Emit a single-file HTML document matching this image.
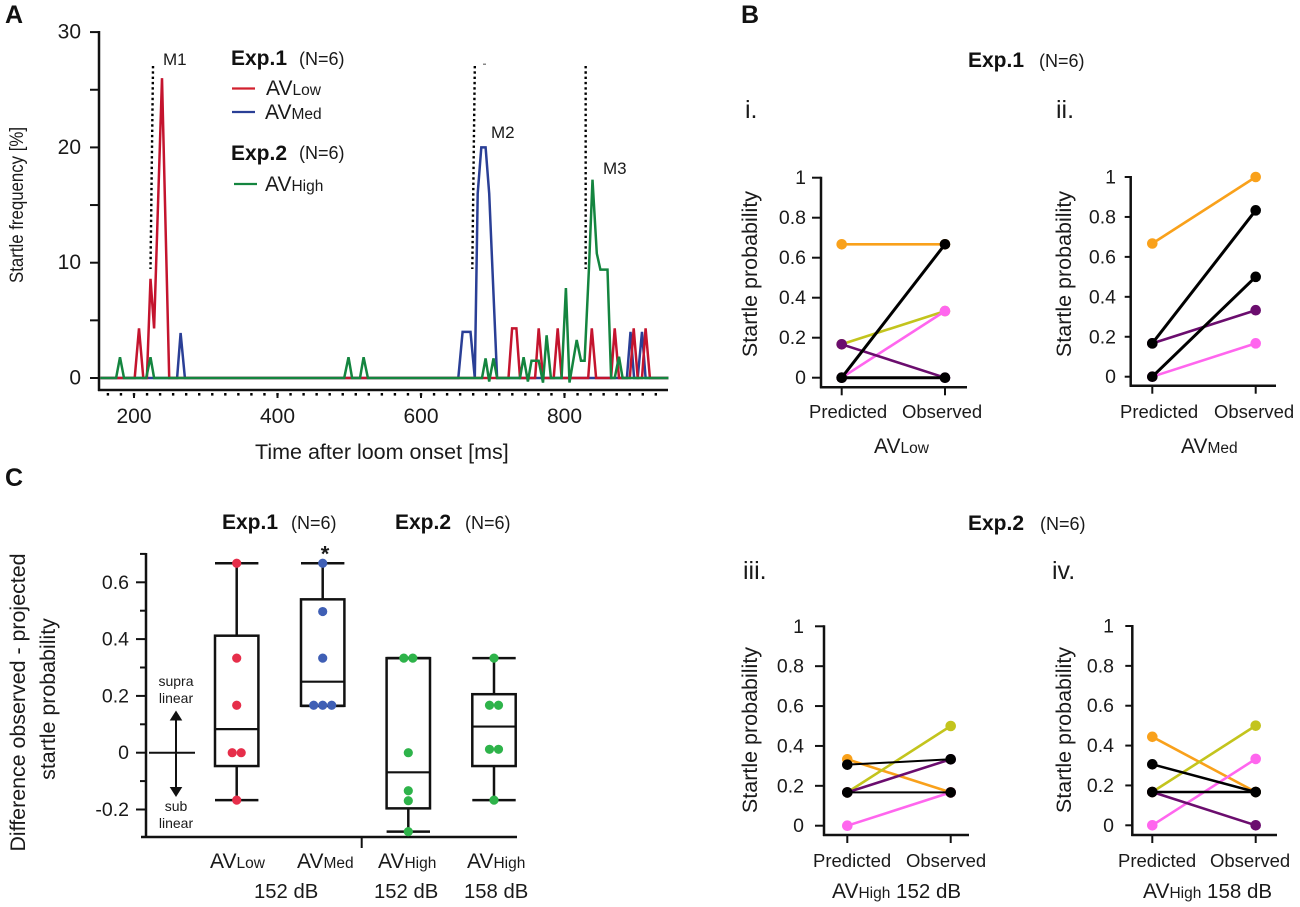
<!DOCTYPE html>
<html lang="en">
<head>
<meta charset="utf-8">
<title>Startle frequency and probability figure</title>
<style>
html,body{margin:0;padding:0;background:#fff;width:1300px;height:907px;overflow:hidden}
svg{display:block;filter:blur(0.35px)}
text{font-family:"Liberation Sans",Arial,sans-serif;fill:#1a1a1a}
.big{font-size:25px;font-weight:bold;fill:#111}
.exp{font-size:21px;font-weight:bold;fill:#111}
.n{font-size:18px}
.m{font-size:17px}
.av{font-size:21px}
.sub{font-size:15.5px}
.yt{font-size:21.5px}
.cat{font-size:18.5px}
.rom{font-size:25px}
.note{font-size:14px;text-anchor:middle}
</style>
</head>
<body>
<svg id="figure" xmlns="http://www.w3.org/2000/svg" width="1300" height="907" viewBox="0 0 1300 907">
  <text class="big" x="5" y="23">A</text>
  <text class="big" x="741" y="23">B</text>
  <text class="big" x="5" y="486">C</text>

  <g id="panelA"></g>
  <text transform="translate(23,205) rotate(-90)" text-anchor="middle" style="font-size:19px" textLength="156" lengthAdjust="spacingAndGlyphs">Startle frequency [%]</text>
  <text x="255" y="459" style="font-size:21.5px">Time after loom onset [ms]</text>
  <text class="m" x="163" y="65">M1</text>
  <text class="m" x="491" y="138">M2</text>
  <text class="m" x="603" y="174">M3</text>
  <rect x="483" y="63.5" width="3" height="1.5" fill="#888"/>

  <text class="exp" x="231" y="65">Exp.1</text>
  <text class="n" x="299" y="65">(N=6)</text>
  <line x1="232" y1="88.5" x2="255" y2="88.5" stroke="#d2202f" stroke-width="2.2"/>
  <text x="266" y="95"><tspan class="av">AV</tspan><tspan class="sub">Low</tspan></text>
  <line x1="232" y1="112" x2="255" y2="112" stroke="#2a3f96" stroke-width="2.2"/>
  <text x="265" y="119"><tspan class="av">AV</tspan><tspan class="sub">Med</tspan></text>
  <text class="exp" x="231" y="160">Exp.2</text>
  <text class="n" x="299" y="159">(N=6)</text>
  <line x1="234" y1="184" x2="257" y2="184" stroke="#14853f" stroke-width="2.2"/>
  <text x="265" y="191"><tspan class="av">AV</tspan><tspan class="sub">High</tspan></text>

  <text class="exp" x="968" y="67">Exp.1</text>
  <text class="n" x="1039" y="67">(N=6)</text>
  <text class="exp" x="968" y="530">Exp.2</text>
  <text class="n" x="1040" y="530">(N=6)</text>

  <text class="rom" x="745" y="118">i.</text>
  <text class="rom" x="1056" y="118">ii.</text>
  <text class="rom" x="743" y="579">iii.</text>
  <text class="rom" x="1052" y="579">iv.</text>

  <g id="panelB"></g>

  <text transform="translate(757,274) rotate(-90)" text-anchor="middle" class="yt">Startle probability</text>
  <text transform="translate(1071,274) rotate(-90)" text-anchor="middle" class="yt">Startle probability</text>
  <text transform="translate(757,730) rotate(-90)" text-anchor="middle" class="yt">Startle probability</text>
  <text transform="translate(1071,730) rotate(-90)" text-anchor="middle" class="yt">Startle probability</text>

  <text class="cat" x="809" y="418">Predicted</text>
  <text class="cat" x="902" y="418">Observed</text>
  <text x="874" y="453"><tspan class="av">AV</tspan><tspan class="sub">Low</tspan></text>
  <text class="cat" x="1120" y="418">Predicted</text>
  <text class="cat" x="1214" y="418">Observed</text>
  <text x="1181" y="453"><tspan class="av">AV</tspan><tspan class="sub">Med</tspan></text>
  <text class="cat" x="813" y="867">Predicted</text>
  <text class="cat" x="906" y="867">Observed</text>
  <text x="832" y="898"><tspan class="av">AV</tspan><tspan class="sub">High</tspan><tspan style="font-size:20.5px"> 152 dB</tspan></text>
  <text class="cat" x="1118" y="867">Predicted</text>
  <text class="cat" x="1210" y="867">Observed</text>
  <text x="1143" y="898"><tspan class="av">AV</tspan><tspan class="sub">High</tspan><tspan style="font-size:20.5px"> 158 dB</tspan></text>

  <g id="panelC"></g>
  <text class="exp" x="222" y="529">Exp.1</text>
  <text class="n" x="291" y="529">(N=6)</text>
  <text class="exp" x="395" y="529">Exp.2</text>
  <text class="n" x="465" y="529">(N=6)</text>
  <text transform="translate(25,702.5) rotate(-90)" text-anchor="middle" style="font-size:21.4px">Difference observed - projected</text>
  <text transform="translate(55,699) rotate(-90)" text-anchor="middle" style="font-size:21.4px">startle probability</text>
  <text class="note" x="176" y="686">supra</text>
  <text class="note" x="176" y="703">linear</text>
  <text class="note" x="176" y="811">sub</text>
  <text class="note" x="176" y="828">linear</text>
  <line x1="149" y1="752.7" x2="195" y2="752.7" stroke="#111" stroke-width="2"/>
  <line x1="176" y1="716" x2="176" y2="790" stroke="#111" stroke-width="2"/>
  <polygon points="176,710.5 169.7,720.5 182.3,720.5" fill="#111"/>
  <polygon points="176,797 169.7,787 182.3,787" fill="#111"/>
  <text x="325" y="561.5" text-anchor="middle" style="font-size:22px;font-weight:bold">*</text>
  <text x="210" y="868"><tspan class="av">AV</tspan><tspan class="sub">Low</tspan></text>
  <text x="297" y="868"><tspan class="av">AV</tspan><tspan class="sub">Med</tspan></text>
  <text x="378" y="868"><tspan class="av">AV</tspan><tspan class="sub">High</tspan></text>
  <text x="467" y="868"><tspan class="av">AV</tspan><tspan class="sub">High</tspan></text>
  <text x="254" y="898" style="font-size:20.3px">152 dB</text>
  <text x="374" y="898" style="font-size:20.3px">152 dB</text>
  <text x="464" y="898" style="font-size:20.3px">158 dB</text>
</svg>

<script>
// ---------- Panel A data ----------
const lowTimes = [153,201,207,213,218,223,228,239,249,722,727,733,738,759,764,770,785,790.5,796,833,838,844,865,870,876,891,896.5,902,908,913,919,945];
const lowValues = [0,0,4.3,0,0,8.6,4.3,26,0,0,4.3,4.3,0,0,4.3,0,0,4.3,0,0,4.3,0,0,4.3,0,0,4.3,0,0,4.3,0,0];
const medTimes = [153,260,265,271,652,658,669,675,679,684,690,695,706,887,892,897,902,908,913,945];
const medValues = [0,0,3.9,0,0,4,4,0,16,20,20,16,0,0,4,0,0,4,0,0];
const highTimes = [153,175,180.5,186,217,223,228,493,499,504,515,520,526,685,690,695,701,706,738,743,749,754,764,770,775,781,796,802,807,817,823,828,834,839,845,850,860,865,870,876,881,945];
const highValues = [0,0,1.8,0,0,1.8,0,0,1.8,0,0,1.8,0,0,1.7,-0.3,1.7,0,0,1.8,-0.3,1.5,1.5,-0.4,3.7,0,0,7.8,-0.4,3.3,1.5,1.5,9.4,17.2,10.8,9.4,9.4,0,0,1.85,0,0];
const freqTicks = [0,10,20,30];
const freqMinorTicks = [5,15,25];
const timeTicks = [200,400,600,800];
const markerTimesTop = [226.5,675,829.5];
const markerTimesBottom = [223,671.5,829.5];

// ---------- Panel B data ----------
const seriesNames = ['orange','olive','magenta','purple','black-a','black-b'];
const probTicks = [0,0.2,0.4,0.6,0.8,1];
const panelIPredicted = [0.667,0.167,0,0.167,0,0];
const panelIObserved = [0.667,0.333,0.333,0,0.667,0];
const panelIIPredicted = [0.667,null,0,0.167,0.167,0];
const panelIIObserved = [1,null,0.167,0.333,0.833,0.5];
const panelIIIPredicted = [0.333,0.167,0,0.167,0.306,0.167];
const panelIIIObserved = [0.167,0.5,0.167,0.333,0.333,0.167];
const panelIVPredicted = [0.444,0.167,0,0.167,0.306,0.167];
const panelIVObserved = [0.167,0.5,0.333,0,0.167,0.167];

// ---------- Panel C data ----------
const boxCategories = ['av-low','av-med','av-high-152','av-high-158'];
const boxQ3 = [0.412,0.54,0.333,0.206];
const boxMedian = [0.083,0.25,-0.069,0.092];
const boxQ1 = [-0.047,0.165,-0.196,-0.047];
const whiskerHigh = [0.667,0.667,0.333,0.333];
const whiskerLow = [-0.167,0.165,-0.278,-0.167];
const lowPoints = [0.667,0.333,0.167,0,0,-0.167];
const medPoints = [0.667,0.497,0.333,0.167,0.167,0.167];
const high152Points = [0.333,0.333,0,-0.134,-0.169,-0.278];
const high158Points = [0.333,0.167,0.167,0.012,0.012,-0.167];
const diffTicks = [-0.2,0,0.2,0.4,0.6];
const diffMinorTicks = [-0.1,0.1,0.3,0.5,0.7];

const NS = 'http://www.w3.org/2000/svg';
function el(tag, parent, attrs) {
  const e = document.createElementNS(NS, tag);
  for (const k in attrs) e.setAttribute(k, attrs[k]);
  parent.appendChild(e);
  return e;
}

// ---------- Panel A drawing ----------
(function () {
  const g = document.getElementById('panelA');
  const x = t => 134 + (t - 200) * 0.7175;
  const y = v => 378 - v * 11.53;

  const ax = el('line', g, {x1:99,y1:31,x2:99,y2:391,stroke:'#111','stroke-width':2.5});
  
  
  const bx = el('line', g, {x1:98,y1:390,x2:668,y2:390,stroke:'#111','stroke-width':2.5});
  
  

  freqTicks.forEach(v => {
    const t = el('line', g, {x1:90,y1:y(v),x2:99,y2:y(v),stroke:'#111','stroke-width':2});
    
    
    const l = el('text', g, {x:81,y:y(v)+6.5,'text-anchor':'end','font-size':21});
    
    
    l.textContent = v;
  });
  freqMinorTicks.forEach(v => {
    const t = el('line', g, {x1:90,y1:y(v),x2:99,y2:y(v),stroke:'#111','stroke-width':2});
    
    
  });
  for (let t = 200 - 2 * 200 / 11; t < 945; t += 200 / 11) {
    const d = el('rect', g, {x:x(t)-1.2,y:393,width:2.4,height:2.6,fill:'#000'});
    
    
  }
  timeTicks.forEach(v => {
    const t = el('line', g, {x1:x(v),y1:393,x2:x(v),y2:398,stroke:'#111','stroke-width':2});
    
    
    const l = el('text', g, {x:x(v),y:423,'text-anchor':'middle','font-size':21});
    
    
    l.textContent = v;
  });

  markerTimesTop.forEach((t, i) => {
    const m = el('line', g, {x1:x(t),y1:66,x2:x(markerTimesBottom[i]),y2:269,stroke:'#000','stroke-width':2.4,'stroke-dasharray':'2.4 2.9'});
    
    
  });

  const pts = (ts, vs) => ts.map((t, i) => x(t).toFixed(1) + ',' + y(vs[i]).toFixed(1)).join(' ');
  const medLine = el('polyline', g, {points:pts(medTimes, medValues),fill:'none',stroke:'#2a3f96','stroke-width':2.5,'stroke-linejoin':'miter'});
  
  
  const lowLine = el('polyline', g, {points:pts(lowTimes, lowValues),fill:'none',stroke:'#c4142e','stroke-width':2.5,'stroke-linejoin':'miter'});
  
  
  const highLine = el('polyline', g, {points:pts(highTimes, highValues),fill:'none',stroke:'#14853f','stroke-width':2.5,'stroke-linejoin':'miter'});
  
  
})();

// ---------- Panel B drawing ----------
const seriesColors = {'orange':'#f9a11b','olive':'#c3c41d','magenta':'#ff66ee','purple':'#6b0d6e','black-a':'#000','black-b':'#000'};
function drawProbPanel(name, ax, predicted, observed) {
  const g = el('g', document.getElementById('panelB'), {});
  
  
  const y = v => ax.y0 - v * (ax.y0 - ax.y1);

  const ya = el('line', g, {x1:ax.x,y1:y(1)-1,x2:ax.x,y2:ax.yb+1,stroke:'#111','stroke-width':2.5});
  
  
  const xa = el('line', g, {x1:ax.x-1,y1:ax.yb,x2:ax.xe,y2:ax.yb,stroke:'#111','stroke-width':2.5});
  
  

  probTicks.forEach(v => {
    const t = el('line', g, {x1:ax.x-ax.tl,y1:y(v),x2:ax.x,y2:y(v),stroke:'#111','stroke-width':2});
    
    
    const l = el('text', g, {x:ax.lab,y:y(v)+6.5,'text-anchor':'end','font-size':19.5});
    
    
    l.textContent = v;
  });
  [ax.xp, ax.xo].forEach(px => {
    const t = el('line', g, {x1:px,y1:ax.yb,x2:px,y2:ax.yb+8,stroke:'#111','stroke-width':2});
    
    
  });

  seriesNames.forEach((s, i) => {
    if (predicted[i] === null) return;
    const color = seriesColors[s];
    const ln = el('line', g, {x1:ax.xp,y1:y(predicted[i]),x2:ax.xo,y2:y(observed[i]),stroke:color,'stroke-width':color === '#000' ? ax.bw : 2.6});
    
    
    const a = el('circle', g, {cx:ax.xp,cy:y(predicted[i]),r:5.3,fill:color});
    
    
    const b = el('circle', g, {cx:ax.xo,cy:y(observed[i]),r:5.3,fill:color});
    
    
  });
}
drawProbPanel('i',   {x:821,  y0:377.7,y1:177.7,yb:387.3,xe:967,  tl:9,lab:806, xp:841.7, xo:945,   bw:3},   panelIPredicted,   panelIObserved);
drawProbPanel('ii',  {x:1130.7,y0:376.7,y1:177,  yb:385.7,xe:1276,tl:6,lab:1116,xp:1152.3,xo:1255.7,bw:3},   panelIIPredicted,  panelIIObserved);
drawProbPanel('iii', {x:824,  y0:825.7,y1:626.3,yb:835,  xe:969,  tl:9,lab:804, xp:847.3, xo:950.7, bw:2},   panelIIIPredicted, panelIIIObserved);
drawProbPanel('iv',  {x:1132.3,y0:825.3,y1:626,  yb:835,  xe:1277,tl:7,lab:1114,xp:1152.3,xo:1255.7,bw:2.5}, panelIVPredicted,  panelIVObserved);

// ---------- Panel C drawing ----------
(function () {
  const g = document.getElementById('panelC');
  const y = v => 752.7 - v * 284;
  const centers = [236.7, 322.7, 408.3, 494];
  const halfWidth = 21.7;
  const pointSets = [lowPoints, medPoints, high152Points, high158Points];
  const offsets = [
    [0,0,0,-4.5,4.5,0],
    [0,0,0,-9,0,9],
    [-4.5,4.5,0,0,0,0],
    [0,-4.5,4.5,-4.5,4.5,0]
  ];
  const colors = ['#e62e4a','#3f5fb5','#2eb34a','#2eb34a'];

  const ya = el('line', g, {x1:146,y1:553,x2:146,y2:838,stroke:'#111','stroke-width':2.5});
  
  
  const xa = el('line', g, {x1:141,y1:837,x2:517,y2:837,stroke:'#111','stroke-width':2.5});
  
  
  const sep = el('line', g, {x1:361.7,y1:837,x2:361.7,y2:848,stroke:'#111','stroke-width':2});
  
  

  diffTicks.forEach(v => {
    const t = el('line', g, {x1:136,y1:y(v),x2:146,y2:y(v),stroke:'#111','stroke-width':2});
    
    
    const l = el('text', g, {x:129,y:y(v)+6.5,'text-anchor':'end','font-size':19.5});
    
    
    l.textContent = v;
  });
  diffMinorTicks.forEach(v => {
    const t = el('line', g, {x1:140,y1:y(v),x2:146,y2:y(v),stroke:'#111','stroke-width':2});
    
    
  });

  boxCategories.forEach((c, i) => {
    const cx = centers[i];
    const top = el('line', g, {x1:cx,y1:y(whiskerHigh[i]),x2:cx,y2:y(boxQ3[i]),stroke:'#111','stroke-width':2.5});
    
    
    const bot = el('line', g, {x1:cx,y1:y(boxQ1[i]),x2:cx,y2:y(whiskerLow[i]),stroke:'#111','stroke-width':2.5});
    
    
    const capT = el('line', g, {x1:cx-halfWidth,y1:y(whiskerHigh[i]),x2:cx+halfWidth,y2:y(whiskerHigh[i]),stroke:'#111','stroke-width':2.5});
    
    
    const capB = el('line', g, {x1:cx-halfWidth,y1:y(whiskerLow[i]),x2:cx+halfWidth,y2:y(whiskerLow[i]),stroke:'#111','stroke-width':2.5});
    
    
    const box = el('rect', g, {x:cx-halfWidth,y:y(boxQ3[i]),width:halfWidth*2,height:y(boxQ1[i])-y(boxQ3[i]),fill:'none',stroke:'#111','stroke-width':2.5});
    
    
    const med = el('line', g, {x1:cx-halfWidth,y1:y(boxMedian[i]),x2:cx+halfWidth,y2:y(boxMedian[i]),stroke:'#111','stroke-width':2.2});
    
    
    pointSets[i].forEach((v, j) => {
      const p = el('circle', g, {cx:cx+offsets[i][j],cy:y(v),r:4.6,fill:colors[i]});
      
      
    });
  });
})();
</script>
</body>
</html>
